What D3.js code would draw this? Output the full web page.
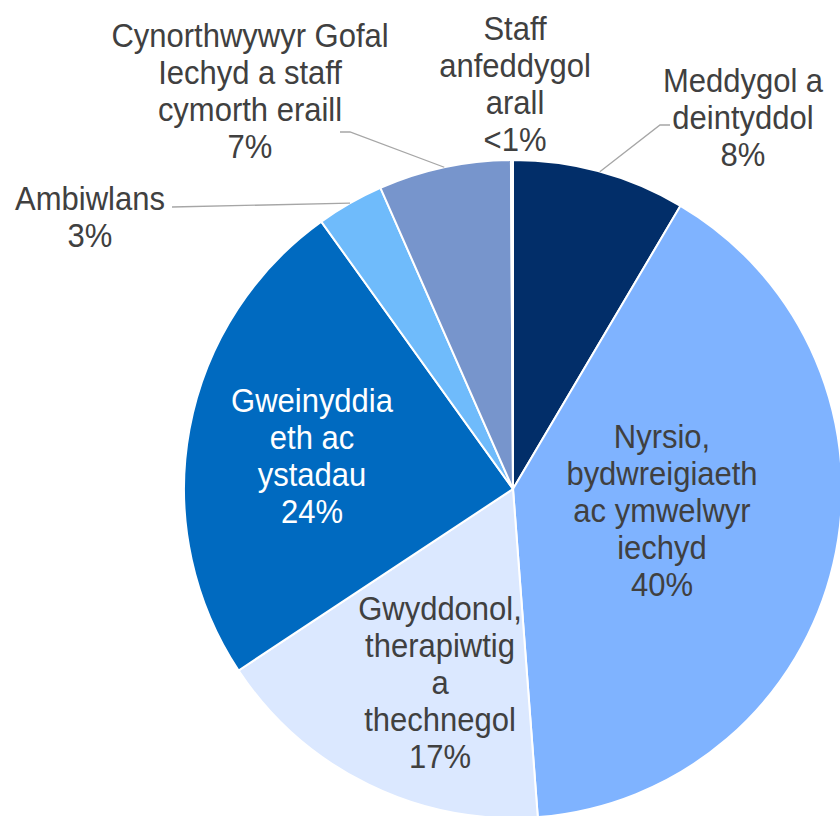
<!DOCTYPE html>
<html>
<head>
<meta charset="utf-8">
<script src="https://cdn.jsdelivr.net/npm/d3@7"></script>
<style>
  body { margin: 0; background: #fff; }
  svg { display: block; }
</style>
</head>
<body>
<div id="chart"></div>
<script>
// slice data, clockwise from 12 o'clock
const categories = [
  ["Meddygol a", "deintyddol"],
  ["Nyrsio,", "bydwreigiaeth", "ac ymwelwyr", "iechyd"],
  ["Gwyddonol,", "therapiwtig", "a", "thechnegol"],
  ["Gweinyddia", "eth ac", "ystadau"],
  ["Ambiwlans"],
  ["Cynorthwywyr Gofal", "Iechyd a staff", "cymorth eraill"],
  ["Staff", "anfeddygol", "arall"]
]
const values = [8.5, 40.3, 16.9, 24.4, 3.3, 6.5, 0.1]
const pctLabels = ["8%", "40%", "17%", "24%", "3%", "7%", "<1%"]
const colors = ["#022e69", "#7fb3ff", "#dbe8ff", "#006ac0", "#6fbbfb", "#7795cc", "#a9c7f0"]

// label layout: centre x, first baseline y, text colour, leader elbow points (label side)
const labelLayout = [
  {x: 743, y: 92, fill: "#404040", leader: [[670, 125], [660, 125]]},
  {x: 662, y: 448, fill: "#404040", leader: null},
  {x: 440, y: 620, fill: "#404040", leader: null},
  {x: 312, y: 412, fill: "#ffffff", leader: null},
  {x: 90, y: 210, fill: "#404040", leader: [[172, 207]]},
  {x: 250, y: 47, fill: "#404040", leader: [[340, 132], [350, 132]]},
  {x: 515, y: 40, fill: "#404040", leader: null}
]

const width = 840, height = 816
const cx = 513, cy = 489, radius = 329
const lineH = 37
const stretch = 1.08   // text in the original is a little taller than wide

const svg = d3.select("#chart")
  .append("svg")
    .attr("width", width)
    .attr("height", height)

const g = svg.append("g")
    .attr("transform", `translate(${cx}, ${cy})`)

const pie = d3.pie().sort(null).value(d => d)
const arcs = pie(values)

const arc = d3.arc().innerRadius(0).outerRadius(radius)

// slices
g.selectAll("path.slice")
  .data(arcs)
  .enter()
  .append("path")
    .attr("class", "slice")
    .attr("d", arc)
    .attr("fill", (d, i) => colors[i])
    .attr("stroke", "#ffffff")
    .attr("stroke-width", 2)

// leader lines for outside labels
arcs.forEach(function(d, i) {
  const lay = labelLayout[i]
  if (!lay.leader) return
  const mid = (d.startAngle + d.endAngle) / 2
  const px = cx + radius * Math.sin(mid)
  const py = cy - radius * Math.cos(mid)
  const pts = lay.leader.concat([[px, py]])
  svg.append("path")
    .attr("d", d3.line()(pts))
    .attr("fill", "none")
    .attr("stroke", "#a6a6a6")
    .attr("stroke-width", 1.3)
})

// labels
arcs.forEach(function(d, i) {
  const lay = labelLayout[i]
  const lines = categories[i].concat([pctLabels[i]])
  const t = svg.append("text")
    .attr("transform", `translate(${lay.x}, ${lay.y}) scale(1, ${stretch})`)
    .attr("text-anchor", "middle")
    .attr("font-family", "'Liberation Sans', Arial, sans-serif")
    .attr("font-size", "31px")
    .attr("fill", lay.fill)
  lines.forEach(function(l, j) {
    t.append("tspan")
      .attr("x", 0)
      .attr("y", j * lineH / stretch)
      .text(l)
  })
})
</script>
</body>
</html>
